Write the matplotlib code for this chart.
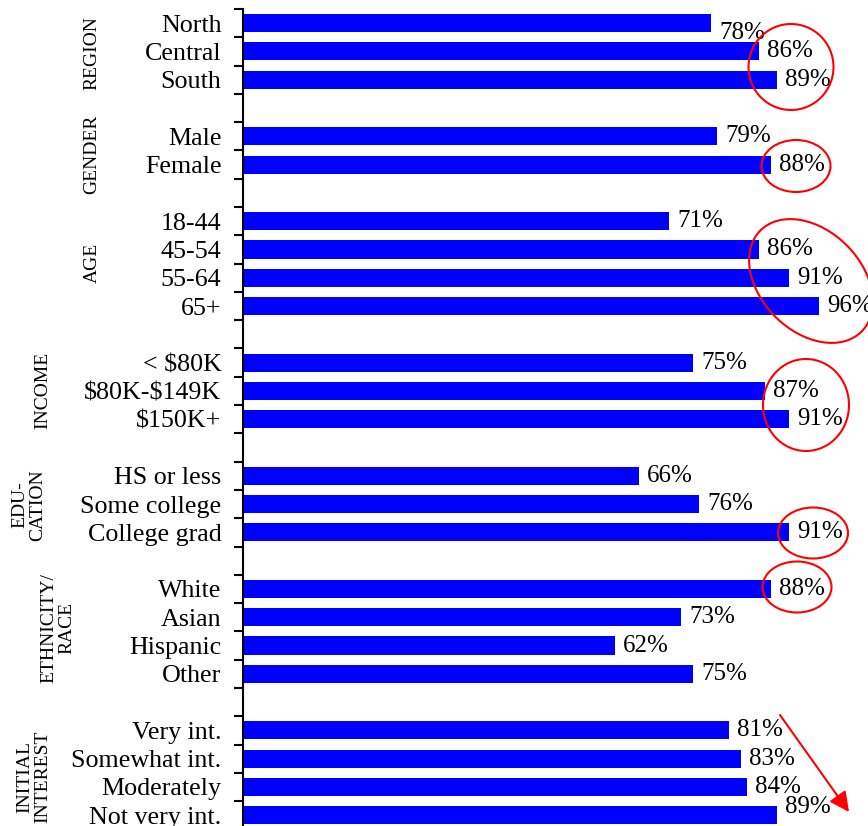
import numpy as np
import matplotlib
matplotlib.use("Agg")
import matplotlib.pyplot as plt
from matplotlib.patches import Ellipse, FancyArrowPatch

matplotlib.rcParams["font.family"] = ["Liberation Serif", "DejaVu Serif"]
matplotlib.rcParams["text.parse_math"] = False

# data (top to bottom, None = gap row between groups)
categories = ["North", "Central", "South", None,
              "Male", "Female", None,
              "18-44", "45-54", "55-64", "65+", None,
              "< $80K", "$80K-$149K", "$150K+", None,
              "HS or less", "Some college", "College grad", None,
              "White", "Asian", "Hispanic", "Other", None,
              "Very int.", "Somewhat int.", "Moderately", "Not very int."]
values = [78, 86, 89, None,
          79, 88, None,
          71, 86, 91, 96, None,
          75, 87, 91, None,
          66, 76, 91, None,
          88, 73, 62, 75, None,
          81, 83, 84, 89]
groups = ["REGION", "GENDER", "AGE", "INCOME", "EDU-\nCATION", "ETHNICITY/\nRACE", "INITIAL\nINTEREST"]

W, H = 868, 826
fig = plt.figure(figsize=(W / 100, H / 100), dpi=100)
ax = fig.add_axes([243 / W, 0, 1 - 243 / W, (H - 9) / H])

rows = np.arange(len(categories))
idx = [i for i, c in enumerate(categories) if c is not None]
vals = [values[i] for i in idx]
ax.barh(idx, vals, height=0.64, color="#0000ff")

# value labels, two of them nudged like in the original
nudge = {0: 0.35, 28: -0.28}
for i, v in zip(idx, vals):
    ax.text(v + 1.33, i + nudge.get(i, 0), "%d%%" % v, ha="left", va="center", fontsize=18)

ax.set_xlim(0, 625 / 6)
ax.set_ylim(-0.5 + (H - 9) / 28.29, -0.5)

# ticks on row borders, labels on row centers
ax.set_yticks(rows - 0.5)
ax.set_yticklabels([])
ax.set_yticks(idx, minor=True)
ax.set_yticklabels([categories[i] for i in idx], minor=True, fontsize=18.7)
ax.tick_params(axis="y", which="major", length=6.5, width=1.5, direction="out")
ax.tick_params(axis="y", which="minor", length=0, pad=15.5)
ax.set_xticks([])
for s in ["top", "right", "bottom"]:
    ax.spines[s].set_visible(False)
ax.spines["left"].set_linewidth(1.5)

# overlay in pixel units for group names, circles and arrow
ov = fig.add_axes([0, 0, 1, 1])
ov.set_xlim(0, W)
ov.set_ylim(H, 0)
ov.axis("off")
ov.patch.set_alpha(0)

group_pos = [(92, 53), (92, 154), (92, 263), (43, 390), (29, 505), (58, 628), (34, 777)]
for g, (x, y) in zip(groups, group_pos):
    ov.text(x, y, g, rotation=90, ha="center", va="center", multialignment="center",
            fontsize=14, linespacing=1.1)

ellipses = [(791, 67, 85, 86, 0), (796, 166, 69, 52, 0), (811, 281, 143, 101, 45),
            (806, 405, 86, 92, 0), (813, 533, 70, 51, 0), (797, 587, 69, 51, 0)]
for x, y, w, h, a in ellipses:
    ov.add_patch(Ellipse((x, y), w, h, angle=a, fill=False, edgecolor="red", linewidth=1.5))

ov.add_patch(FancyArrowPatch((780, 715), (849, 812), arrowstyle="-|>,head_length=12,head_width=6",
                             color="red", linewidth=1.5, shrinkA=0, shrinkB=0))

plt.savefig("out.png", dpi=100)
